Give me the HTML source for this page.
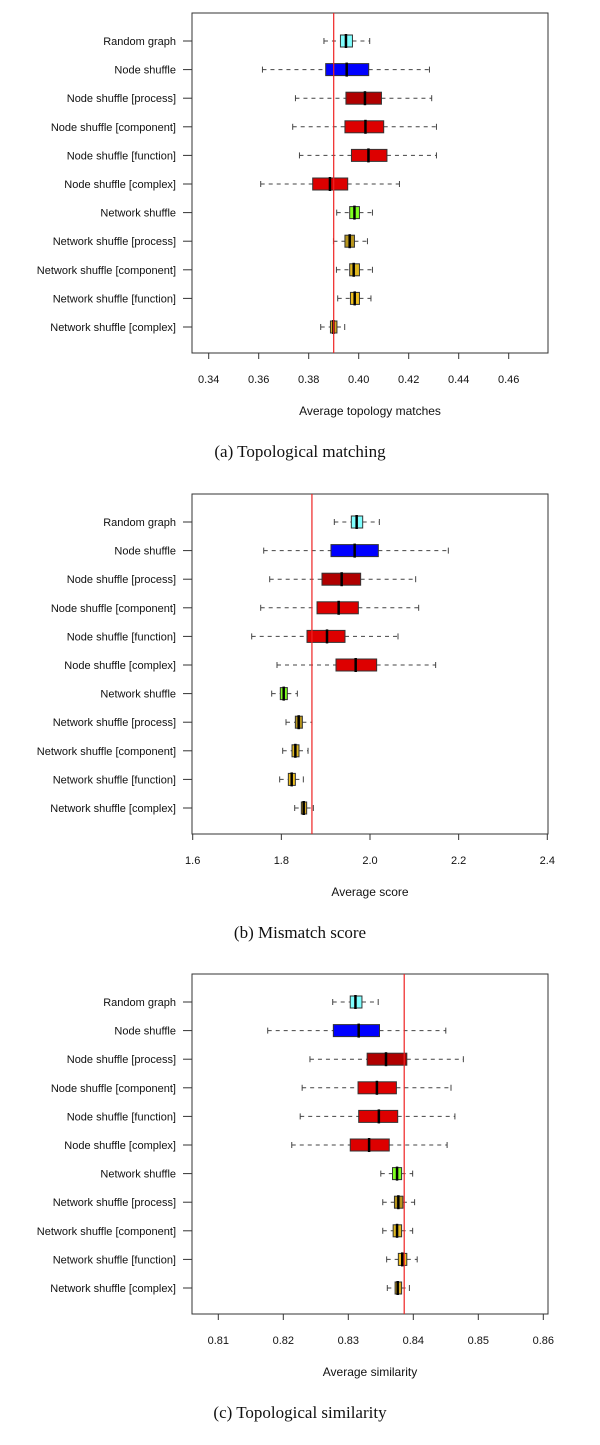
<!DOCTYPE html>
<html><head><meta charset="utf-8"><style>
html,body{margin:0;padding:0;background:#fff;width:600px;height:1445px;overflow:hidden}
svg{display:block}
text{font-family:"Liberation Sans",sans-serif;fill:#111}
.cap{font-family:"Liberation Serif",serif;font-size:17px}
</style></head><body>
<svg id="chart" width="600" height="1445" viewBox="0 0 600 1445" xmlns="http://www.w3.org/2000/svg"></svg>
<script>
const categories = ["Random graph","Node shuffle","Node shuffle [process]","Node shuffle [component]","Node shuffle [function]","Node shuffle [complex]","Network shuffle","Network shuffle [process]","Network shuffle [component]","Network shuffle [function]","Network shuffle [complex]"];
const boxColors = ["#80ffff","#0000ff","#b00000","#dd0000","#dd0000","#dd0000","#80ff20","#b8961c","#e0b820","#f0c020","#d8a820"];

// panel a: [whiskerLo, q1, median, q3, whiskerHi]
const matchLo = [0.3861,0.3615,0.3747,0.3736,0.3763,0.3608,0.3912,0.3899,0.3911,0.3916,0.3848];
const matchQ1 = [0.3927,0.3868,0.3949,0.3945,0.3971,0.3816,0.3964,0.3945,0.3964,0.3967,0.3887];
const matchMed = [0.3949,0.3952,0.4025,0.4027,0.4039,0.3885,0.3983,0.3964,0.3980,0.3984,0.3899];
const matchQ3 = [0.3975,0.4040,0.4091,0.4100,0.4113,0.3956,0.4003,0.3983,0.4003,0.4003,0.3913];
const matchHi = [0.4044,0.4283,0.4292,0.4311,0.4311,0.4163,0.4055,0.4035,0.4055,0.4049,0.3944];
const matchRef = 0.3900;
const matchTicks = ["0.34","0.36","0.38","0.40","0.42","0.44","0.46"];

// panel b
const scoreLo = [1.9195,1.7602,1.7737,1.7534,1.7331,1.7902,1.7782,1.8105,1.8030,1.7962,1.8301];
const scoreQ1 = [1.9579,1.9120,1.8917,1.8805,1.8579,1.9233,1.7977,1.8316,1.8241,1.8158,1.8451];
const scoreMed = [1.9699,1.9654,1.9361,1.9293,1.9030,1.9677,1.8053,1.8391,1.8316,1.8233,1.8504];
const scoreQ3 = [1.9835,2.0188,1.9789,1.9737,1.9436,2.0150,1.8135,1.8474,1.8398,1.8316,1.8571];
const scoreHi = [2.0211,2.1767,2.1030,2.1098,2.0632,2.1481,1.8361,1.8692,1.8602,1.8496,1.8722];
const scoreRef = 1.869;
const scoreTicks = ["1.6","1.8","2.0","2.2","2.4"];

// panel c
const simLo = [0.8276,0.8176,0.8241,0.8229,0.8226,0.8213,0.8350,0.8353,0.8353,0.8359,0.8360];
const simQ1 = [0.8303,0.8277,0.8329,0.8315,0.8316,0.8303,0.8368,0.8371,0.8369,0.8377,0.8372];
const simMed = [0.8311,0.8316,0.8358,0.8344,0.8347,0.8332,0.8375,0.8377,0.8375,0.8383,0.8376];
const simQ3 = [0.8321,0.8348,0.8390,0.8374,0.8376,0.8363,0.8382,0.8384,0.8382,0.8390,0.8382];
const simHi = [0.8346,0.8450,0.8477,0.8458,0.8464,0.8452,0.8399,0.8402,0.8399,0.8406,0.8394];
const simRef = 0.8386;
const simTicks = ["0.81","0.82","0.83","0.84","0.85","0.86"];

const NS="http://www.w3.org/2000/svg";
const svg=document.getElementById('chart');
function mk(tag,attrs,parent){const e=document.createElementNS(NS,tag);for(const k in attrs)e.setAttribute(k,attrs[k]);(parent||svg).appendChild(e);return e;}

function panel(cfg){
  const g=mk('g',{});
  
  
  const top=cfg.top, L=192, R=548, B=top+340;
  const x=v=>cfg.px0+(v-cfg.v0)/(cfg.v1-cfg.v0)*(cfg.px1-cfg.px0);
  const y=i=>top+28+i*28.6;
  const frame=mk('rect',{x:L,y:top,width:R-L,height:340,fill:'none',stroke:'#333','stroke-width':1},g);
  
  
  // x ticks
  cfg.ticks.forEach(t=>{
    const xx=x(parseFloat(t));
    const tl=mk('line',{x1:xx,x2:xx,y1:B,y2:B+6,stroke:'#333'},g);
    
    
    const tx=mk('text',{x:xx,y:B+30,'text-anchor':'middle','font-size':11},g);
    tx.textContent=t;
    
    
  });
  const at=mk('text',{x:(L+R)/2,y:B+62,'text-anchor':'middle','font-size':12},g);
  at.textContent=cfg.title;
  
  
  const cp=mk('text',{x:300,y:B+104,'text-anchor':'middle',class:'cap'},g);
  cp.textContent=cfg.caption;
  
  
  categories.forEach((c,i)=>{
    const yy=y(i);
    const tk=mk('line',{x1:L-9,x2:L,y1:yy,y2:yy,stroke:'#333'},g);
    
    
    const lb=mk('text',{x:176,y:yy+4,'text-anchor':'end','font-size':11},g);
    lb.textContent=c;
    
    
    const lo=x(cfg.lo[i]),q1=x(cfg.q1[i]),md=x(cfg.md[i]),q3=x(cfg.q3[i]),hi=x(cfg.hi[i]);
    const w1=mk('line',{x1:lo,x2:q1,y1:yy,y2:yy,stroke:'#444','stroke-dasharray':'4,4'},g);
    
    
    const w2=mk('line',{x1:q3,x2:hi,y1:yy,y2:yy,stroke:'#444','stroke-dasharray':'4,4'},g);
    
    
    [lo,hi].forEach(v=>{
      const cap=mk('line',{x1:v,x2:v,y1:yy-3,y2:yy+3,stroke:'#444'},g);
      
      
    });
    const bx=mk('rect',{x:q1,y:yy-6,width:Math.max(q3-q1,1),height:12,fill:boxColors[i],stroke:'#333','stroke-width':1},g);
    
    
    const m=mk('line',{x1:md,x2:md,y1:yy-7,y2:yy+7,stroke:'#000','stroke-width':2.5},g);
    
    
  });
  const rx=x(cfg.ref);
  const rl=mk('line',{x1:rx,x2:rx,y1:top,y2:B,stroke:'#ee2222','stroke-width':1.2},g);
  
  
}
panel({name:'panel-topological-matching',top:13,v0:0.34,v1:0.46,px0:208.7,px1:508.7,ticks:matchTicks,lo:matchLo,q1:matchQ1,md:matchMed,q3:matchQ3,hi:matchHi,ref:matchRef,title:'Average topology matches',caption:'(a)  Topological matching'});
panel({name:'panel-mismatch-score',top:494,v0:1.6,v1:2.4,px0:192.7,px1:547.3,ticks:scoreTicks,lo:scoreLo,q1:scoreQ1,md:scoreMed,q3:scoreQ3,hi:scoreHi,ref:scoreRef,title:'Average score',caption:'(b)  Mismatch score'});
panel({name:'panel-topological-similarity',top:974,v0:0.81,v1:0.86,px0:218.3,px1:543.3,ticks:simTicks,lo:simLo,q1:simQ1,md:simMed,q3:simQ3,hi:simHi,ref:simRef,title:'Average similarity',caption:'(c)  Topological similarity'});
</script>
</body></html>
